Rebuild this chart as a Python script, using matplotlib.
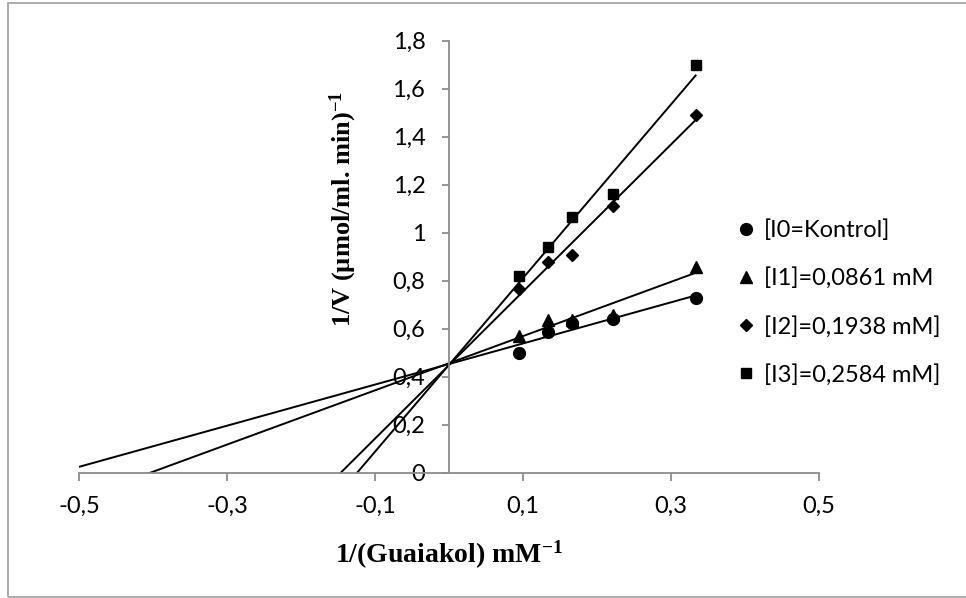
import matplotlib
matplotlib.use("Agg")
import matplotlib.pyplot as plt
import numpy as np
from matplotlib.patches import Rectangle

# --- Datos (Lineweaver-Burk) ---
inv_s = [0.0952, 0.1333, 0.1667, 0.2222, 0.3333]
kontrol = [0.499, 0.587, 0.622, 0.640, 0.728]
i1 = [0.569, 0.635, 0.636, 0.655, 0.858]
i2 = [0.767, 0.877, 0.906, 1.112, 1.491]
i3 = [0.819, 0.941, 1.063, 1.163, 1.698]

labels = ["[I0=Kontrol]", "[I1]=0,0861 mM", "[I2]=0,1938 mM]", "[I3]=0,2584 mM]"]
markers = ["o", "^", "D", "s"]
msizes = [8.5, 9, 6.5, 7]
series = [kontrol, i1, i2, i3]

x_ticks = [-0.5, -0.3, -0.1, 0.1, 0.3, 0.5]
y_ticks = [0, 0.2, 0.4, 0.6, 0.8, 1, 1.2, 1.4, 1.6, 1.8]

plt.rcParams["font.family"] = ["Lato", "DejaVu Sans"]
plt.rcParams["mathtext.fontset"] = "custom"
plt.rcParams["mathtext.rm"] = "Liberation Serif:bold"
plt.rcParams["mathtext.default"] = "rm"

W, H = 966, 598
fig = plt.figure(figsize=(W / 100, H / 100), dpi=100)
ax = fig.add_axes([79 / W, 1 - 472.5 / H, (819 - 79) / W, (472.5 - 40.7) / H])

# puntos y líneas de tendencia (ajuste lineal, extendidas hacia atrás)
x_line = np.array([-0.5, max(inv_s)])
for ys, m, ms, lab in zip(series, markers, msizes, labels):
    ax.plot(inv_s, ys, linestyle="none", marker=m, markersize=ms, color="black", label=lab)
    k, b = np.polyfit(inv_s, ys, 1)
    ax.plot(x_line, k * x_line + b, color="black", linewidth=1.4)

ax.set_xlim(-0.5, 0.5)
ax.set_ylim(0, 1.8)
ax.set_xticks(x_ticks)
ax.set_yticks(y_ticks)
fmt = lambda v: ("%g" % v).replace(".", ",")
ax.set_xticklabels([fmt(v) for v in x_ticks])
ax.set_yticklabels([fmt(v) for v in y_ticks])

gray = "#8c8c8c"
for s in ["top", "right"]:
    ax.spines[s].set_visible(False)
ax.spines["left"].set_position(("data", 0))
for s in ["left", "bottom"]:
    ax.spines[s].set_color(gray)
    ax.spines[s].set_linewidth(1.3)
ax.tick_params(axis="x", direction="out", length=6, width=1.3, color=gray, pad=11, labelsize=17)
ax.tick_params(axis="y", direction="out", length=5, width=1.3, color=gray, pad=12, labelsize=17)
ax.patch.set_alpha(0)

fig.text(449 / W, 1 - 555 / H, "1/(Guaiakol) mM$^{-1}$", ha="center", va="center",
         family="Liberation Serif", weight="bold", fontsize=20)
fig.text(343 / W, 1 - 209 / H, "1/V (µmol/ml. min)$^{-1}$", ha="center", va="center",
         rotation=90, family="Liberation Serif", weight="bold", fontsize=19)

leg = ax.legend(loc="center left", bbox_to_anchor=(738 / W, 1 - 302.5 / H),
                bbox_transform=fig.transFigure, frameon=False, fontsize=17,
                handlelength=0.7, handletextpad=0.4, labelspacing=1.12, borderpad=0,
                borderaxespad=0)

# marco exterior del gráfico
fig.patches.append(Rectangle((8 / W, 1 / H), 1.2, 1 - 4 / H, transform=fig.transFigure,
                             fill=False, edgecolor="#a6a6a6", linewidth=1.3))

fig.savefig("out.png", dpi=100)
